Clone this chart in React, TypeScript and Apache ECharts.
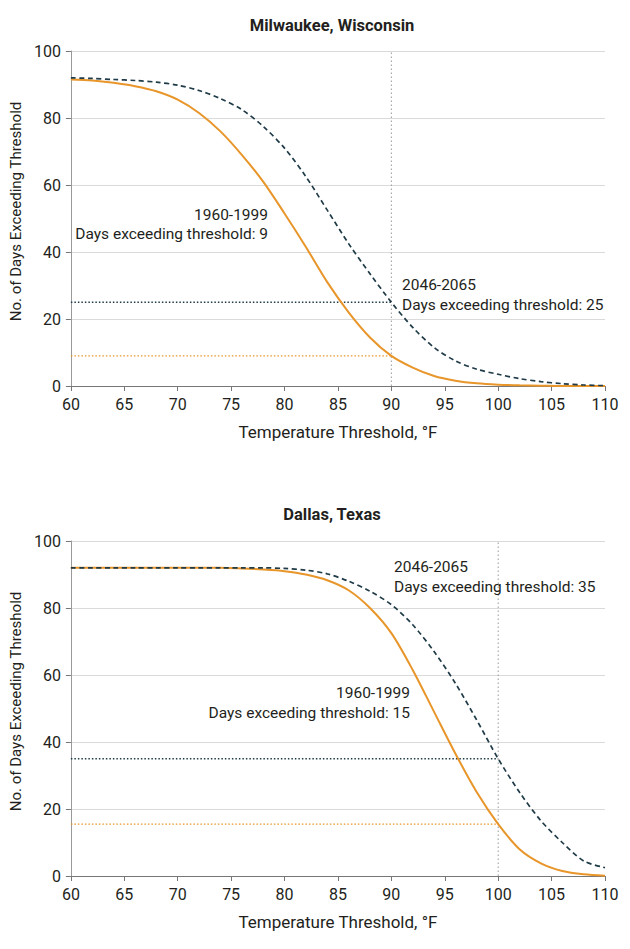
import React, { useEffect, useRef } from "react";
import * as echarts from "echarts";

// Temperature thresholds (°F)
const temps = [60, 62, 64, 66, 68, 70, 72, 74, 76, 78, 80, 82, 84, 86, 88, 90, 92, 94, 96, 98, 100, 102, 104, 106, 108, 110];

// Milwaukee, Wisconsin — days exceeding threshold
const milwaukeePast = [91.5, 91.2, 90.5, 89.5, 88, 85.5, 81.5, 76, 69, 61, 51.5, 41.5, 31, 22, 14.5, 9, 5.5, 3, 1.6, 0.8, 0.4, 0.2, 0.1, 0, 0, 0];
const milwaukeeFuture = [92, 91.8, 91.5, 91.2, 90.7, 89.8, 88.2, 85.8, 82.5, 77.5, 71, 62.5, 52.5, 42.5, 33.5, 25, 17.5, 11.5, 7.5, 5, 3.5, 2.2, 1.3, 0.7, 0.3, 0.1];

// Dallas, Texas — days exceeding threshold
const dallasPast = [92, 92, 92, 92, 92, 92, 92, 92, 91.8, 91.5, 91, 90, 88.3, 85.3, 80, 72.5, 61.5, 49, 36.5, 25, 15.5, 8, 3.8, 1.5, 0.5, 0.1];
const dallasFuture = [92, 92, 92, 92, 92, 92, 92, 92, 92, 92, 91.8, 91.3, 90.2, 88, 85, 81, 75, 67, 57.5, 46.5, 35, 25, 16.5, 10, 4.5, 2.5];

// Highlighted thresholds and values
const milwaukeeThreshold = 90;
const milwaukeeDays = { past: 9, future: 25 };
const dallasThreshold = 100;
const dallasDays = { past: 15.5, future: 35 };

const xMin = 60;
const xMax = 110;
const yMin = 0;
const yMax = 100;

const titles = ["Milwaukee, Wisconsin", "Dallas, Texas"];
const periodPast = "1960-1999";
const periodFuture = "2046-2065";
const xName = "Temperature Threshold, °F";
const yName = "No. of Days Exceeding Threshold";

const ORANGE = "#E8952A";
const DARK = "#1F3B47";
const TEXT = "#231F20";
const FONT = "Roboto";

const pairs = (ys: number[]) => temps.map((t, i) => [t, ys[i]]);

export default function App() {
  const ref = useRef<HTMLDivElement>(null);

  useEffect(() => {
    if (!ref.current) return;
    const chart = echarts.init(ref.current, undefined, { renderer: "svg" });

    const grids = [
      { left: 60, top: 51, width: 545, height: 335 },
      { left: 60, top: 541, width: 545, height: 335 },
    ];

    const xAxisBase = (gridIndex: number) => ({
      type: "value",
      gridIndex,
      min: xMin,
      max: xMax,
      interval: 5,
      name: xName,
      nameLocation: "middle",
      nameGap: 37,
      nameTextStyle: { fontFamily: FONT, fontSize: 17, color: TEXT },
      axisLine: { show: true, onZero: false, lineStyle: { color: "#777", width: 1 } },
      axisTick: { show: true, length: 5, lineStyle: { color: "#777" } },
      axisLabel: { fontFamily: FONT, fontSize: 16, color: TEXT, margin: 10 },
      splitLine: { show: false },
    });

    const yAxisBase = (gridIndex: number) => ({
      type: "value",
      gridIndex,
      min: yMin,
      max: yMax,
      interval: 20,
      name: yName,
      nameLocation: "middle",
      nameGap: 45,
      nameTextStyle: { fontFamily: FONT, fontSize: 15, color: TEXT, padding: [0, 0, 0, 14] },
      axisLine: { show: true, lineStyle: { color: "#999", width: 1 } },
      axisTick: { show: true, length: 5, lineStyle: { color: "#777" } },
      axisLabel: { fontFamily: FONT, fontSize: 16, color: TEXT, margin: 10 },
      splitLine: { show: true, lineStyle: { color: "#DADADA", width: 1 } },
    });

    const refSeries = (gi: number, threshold: number, days: { past: number; future: number }) => [
      {
        type: "line",
        xAxisIndex: gi,
        yAxisIndex: gi,
        data: [[threshold, yMin], [threshold, yMax]],
        symbol: "none",
        lineStyle: { color: "#999", width: 1, type: [1.5, 2.5] },
        silent: true,
        z: 1,
      },
      {
        type: "line",
        xAxisIndex: gi,
        yAxisIndex: gi,
        data: [[xMin, days.future], [threshold, days.future]],
        symbol: "none",
        lineStyle: { color: DARK, width: 1.3, type: [1.5, 2] },
        silent: true,
        z: 1,
      },
      {
        type: "line",
        xAxisIndex: gi,
        yAxisIndex: gi,
        data: [[xMin, days.past], [threshold, days.past]],
        symbol: "none",
        lineStyle: { color: ORANGE, width: 1.3, type: [1.5, 2] },
        silent: true,
        z: 1,
      },
    ];

    const curveSeries = (gi: number, past: number[], future: number[]) => [
      {
        type: "line",
        name: periodPast,
        xAxisIndex: gi,
        yAxisIndex: gi,
        data: pairs(past),
        symbol: "none",
        smooth: 0.3,
        lineStyle: { color: ORANGE, width: 2 },
        z: 3,
      },
      {
        type: "line",
        name: periodFuture,
        xAxisIndex: gi,
        yAxisIndex: gi,
        data: pairs(future),
        symbol: "none",
        smooth: 0.3,
        lineStyle: { color: DARK, width: 1.7, type: [5, 3.5] },
        z: 4,
      },
    ];

    const txt = (text: string, x: number, y: number, align: string, extra: any = {}) => ({
      type: "text",
      x,
      y,
      z: 10,
      style: {
        text,
        align,
        verticalAlign: "middle",
        fontFamily: FONT,
        fontSize: 15.5,
        fill: TEXT,
        ...extra,
      },
    });

    chart.setOption({
      animation: false,
      backgroundColor: "#fff",
      grid: grids,
      xAxis: [xAxisBase(0), xAxisBase(1)],
      yAxis: [yAxisBase(0), yAxisBase(1)],
      series: [
        ...refSeries(0, milwaukeeThreshold, milwaukeeDays),
        ...curveSeries(0, milwaukeePast, milwaukeeFuture),
        ...refSeries(1, dallasThreshold, dallasDays),
        ...curveSeries(1, dallasPast, dallasFuture),
      ],
      graphic: [
        txt(titles[0], 332, 25, "center", { fontWeight: "bold", fontSize: 16.5 }),
        txt(titles[1], 332, 514, "center", { fontWeight: "bold", fontSize: 16.5 }),
        txt(periodPast, 268, 215, "right"),
        txt(`Days exceeding threshold: ${Math.round(milwaukeeDays.past)}`, 268, 234, "right"),
        txt(periodFuture, 402, 285, "left"),
        txt(`Days exceeding threshold: ${Math.round(milwaukeeDays.future)}`, 402, 305, "left"),
        txt(periodFuture, 394, 567, "left"),
        txt(`Days exceeding threshold: ${Math.round(dallasDays.future)}`, 394, 587, "left"),
        txt(periodPast, 410, 693, "right"),
        txt(`Days exceeding threshold: ${Math.floor(dallasDays.past)}`, 410, 713, "right"),
      ],
    });

    return () => chart.dispose();
  }, []);

  return (
    <div
      ref={ref}
      style={{ position: "absolute", left: 0, top: 0, width: 630, height: 949, background: "#fff" }}
    />
  );
}
